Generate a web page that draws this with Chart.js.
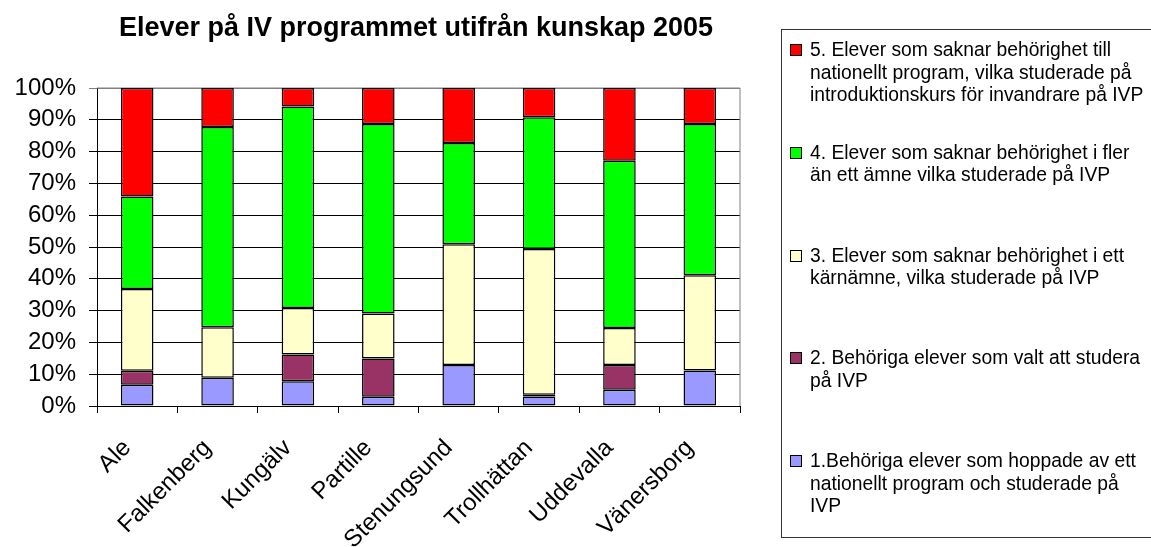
<!DOCTYPE html>
<html>
<head>
<meta charset="utf-8">
<script src="https://cdn.jsdelivr.net/npm/chart.js@4.4.0/dist/chart.umd.min.js"></script>
<style>
  body { margin: 0; background: #fff; font-family: "Liberation Sans", Arial, sans-serif; }
  #wrap { position: relative; width: 1151px; height: 547px; overflow: hidden; }
  #title { position: absolute; left: 0; top: 12px; width: 832px; text-align: center; font-weight: bold; font-size: 27px; line-height: 31px; color: #000; }
  #legend { position: absolute; left: 781px; top: 29px; width: 420px; height: 507px; border: 1px solid #333; }
  .item { position: absolute; left: 8px; font-size: 19.3px; line-height: 22.5px; color: #000; }
  .box { position: absolute; left: 0; top: 5px; width: 10px; height: 10px; border: 1px solid #000; }
  .txt { margin-left: 20px; white-space: nowrap; }
</style>
</head>
<body>
<div id="wrap">
  <canvas id="myChart" width="1151" height="547"></canvas>
  <div id="title">Elever på IV programmet utifrån kunskap 2005</div>
  <div id="legend"></div>
</div>
<script>
const kommuner = ['Ale', 'Falkenberg', 'Kungälv', 'Partille', 'Stenungsund', 'Trollhättan', 'Uddevalla', 'Vänersborg'];

// andel i procent, nerifrån och upp i stapeln
const kat1 = [6.7, 8.9, 7.8, 2.9, 12.9, 3.0, 5.1, 11.2];
const kat2 = [4.4, 0, 8.4, 12.0, 0, 0.5, 7.8, 0];
const kat3 = [25.7, 15.9, 14.6, 14.2, 38.0, 45.9, 11.6, 29.9];
const kat4 = [29.1, 62.9, 63.4, 59.6, 31.8, 41.4, 52.6, 47.6];
const kat5 = [34.1, 12.3, 5.8, 11.3, 17.3, 9.2, 22.9, 11.3];

const namn = [
  ['1.Behöriga elever som hoppade av ett', 'nationellt program och studerade på', 'IVP'],
  ['2. Behöriga elever som valt att studera', 'på IVP'],
  ['3. Elever som saknar behörighet i ett', 'kärnämne, vilka studerade på IVP'],
  ['4. Elever som saknar behörighet i fler', 'än ett ämne vilka studerade på IVP'],
  ['5. Elever som saknar behörighet till', 'nationellt program, vilka studerade på', 'introduktionskurs för invandrare på IVP']
];
const farger = ['#9999FF', '#993366', '#FFFFCC', '#00FF00', '#FF0000'];
const yTicks = [0, 10, 20, 30, 40, 50, 60, 70, 80, 90, 100];

const serier = [kat1, kat2, kat3, kat4, kat5];
const datasets = serier.map((d, i) => ({
  label: namn[i].join(' '),
  data: d,
  backgroundColor: farger[i],
  borderColor: '#000',
  borderWidth: 1.5,
  borderSkipped: false,
  barPercentage: 0.405,
  categoryPercentage: 1
}));

// legenden, serie 5 överst
const legend = document.getElementById('legend');
for (let i = namn.length - 1; i >= 0; i--) {
  const pos = namn.length - 1 - i;
  const item = document.createElement('div');
  item.className = 'item';
  item.style.top = (9 + pos * 102.75) + 'px';
  const box = document.createElement('div');
  box.className = 'box';
  box.style.background = farger[i];
  const txt = document.createElement('div');
  txt.className = 'txt';
  txt.innerHTML = namn[i].join('<br>');
  item.appendChild(box);
  item.appendChild(txt);
  legend.appendChild(item);
}

const plotBorder = {
  id: 'plotBorder',
  beforeDatasetsDraw(chart) {
    const { ctx, chartArea: a } = chart;
    ctx.save();
    ctx.strokeStyle = '#808080';
    ctx.lineWidth = 1;
    ctx.beginPath();
    ctx.moveTo(a.left, a.top);
    ctx.lineTo(a.right, a.top);
    ctx.lineTo(a.right, a.bottom);
    ctx.stroke();
    ctx.restore();
  }
};

const font = { family: '"Liberation Sans", Arial, sans-serif', size: 24 };

new Chart(document.getElementById('myChart'), {
  type: 'bar',
  data: { labels: kommuner, datasets },
  options: {
    responsive: false,
    animation: false,
    layout: { padding: { top: 88, right: 411, left: 0, bottom: 0 } },
    plugins: {
      legend: { display: false },
      title: { display: false }
    },
    scales: {
      x: {
        stacked: true,
        grid: { drawOnChartArea: false, drawTicks: true, tickLength: 7, color: '#000', offset: true },
        border: { color: '#000' },
        ticks: { minRotation: 45, maxRotation: 45, autoSkip: false, color: '#000', font, padding: 21, labelOffset: -10 },
        afterFit(s) { s.height = 141; }
      },
      y: {
        stacked: true,
        min: 0,
        max: 100,
        afterBuildTicks(s) { s.ticks = yTicks.map(v => ({ value: v })); },
        ticks: { callback: v => v + '%', color: '#000', font, padding: 13 },
        grid: { color: c => (c.tick && c.tick.value === 100) ? '#808080' : '#000', tickLength: 8 },
        border: { color: '#000' },
        afterFit(s) { s.width = 97; }
      }
    }
  },
  plugins: [plotBorder]
});
</script>
</body>
</html>
